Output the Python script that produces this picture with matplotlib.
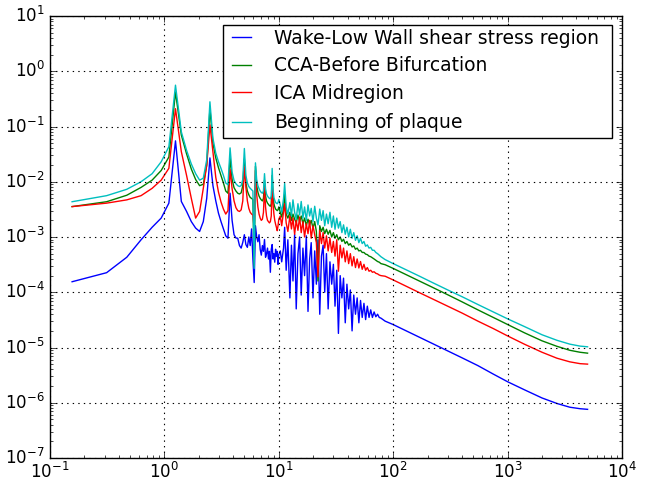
import matplotlib
matplotlib.use("Agg")
import matplotlib.pyplot as plt

# frequency axis (Hz): harmonic grid up to 10 Hz, then coarser samples
freq = [
    0.156, 0.3125, 0.469, 0.625, 0.781, 0.9375, 1.094, 1.25,
    1.406, 1.5625, 1.719, 1.875, 2.031, 2.1875, 2.344, 2.5,
    2.656, 2.8125, 2.969, 3.125, 3.281, 3.4375, 3.594, 3.75,
    3.906, 4.0625, 4.219, 4.375, 4.531, 4.6875, 4.844, 5.0,
    5.156, 5.3125, 5.469, 5.625, 5.781, 5.9375, 6.094, 6.25,
    6.406, 6.5625, 6.719, 6.875, 7.031, 7.1875, 7.344, 7.5,
    7.656, 7.8125, 7.969, 8.125, 8.281, 8.4375, 8.594, 8.75,
    8.906, 9.0625, 9.219, 9.375, 9.531, 9.6875, 9.844, 10.0,
    10.3, 10.6, 11.0, 11.25, 11.6, 12.0, 12.5, 12.9,
    13.3, 13.75, 14.2, 14.7, 15.2, 15.7, 16.25, 16.8,
    17.4, 18.0, 18.6, 19.2, 19.9, 20.6, 21.3, 22.0,
    22.8, 23.6, 24.4, 25.2, 26.1, 27.0, 28.0, 29.0,
    30.0, 31.0, 32.1, 33.2, 34.4, 35.6, 36.8, 38.1,
    39.4, 40.8, 42.2, 43.7, 45.2, 46.8, 48.4, 50.1,
    51.8, 53.6, 55.5, 57.4, 59.4, 61.5, 63.6, 65.8,
    68.1, 70.5, 73.0, 75.5, 78.1,
    85, 100, 130, 170, 220, 300, 400, 550,
    750, 1000, 1400, 2000, 2700, 3500, 4300, 5000,
]

wake = [
    1.55e-4, 2.26e-4, 4.3e-4, 8.9e-4, 1.5e-3, 2.2e-3, 4.1e-3, 5.5e-2,
    4.4e-3, 2.9e-3, 1.9e-3, 1.45e-3, 1.26e-3, 1.9e-3, 5.0e-3, 2.7e-2,
    8.5e-3, 4.5e-3, 2.7e-3, 1.9e-3, 1.4e-3, 1.05e-3, 9.5e-4, 6.2e-3,
    2.0e-3, 1.1e-3, 9.6e-4, 9.5e-4, 7.0e-4, 6.3e-4, 8.0e-4, 1.1e-3,
    7.3e-4, 6.5e-4, 1.0e-3, 7.0e-4, 1.4e-3, 4.0e-4, 1.5e-4, 1.6e-3,
    1.0e-3, 8.2e-4, 1.1e-3, 6.0e-4, 4.7e-4, 7.0e-4, 5.5e-4, 9.0e-4,
    4.3e-4, 5.0e-4, 6.3e-4, 4.0e-4, 5.5e-4, 2.3e-4, 6.0e-4, 7.3e-4,
    4.0e-4, 5.0e-4, 3.5e-4, 6.0e-4, 4.5e-4, 5.5e-4, 3.2e-4, 4.8e-4,
    5.6e-4, 3.55e-4, 6.3e-4, 1.5e-3, 2.5e-4, 8.9e-4, 7.9e-5, 7.1e-4,
    1.6e-4, 1.12e-3, 5.0e-5, 5.0e-4, 1.0e-3, 8.9e-5, 6.3e-4, 2.0e-4,
    1.05e-3, 4.5e-5, 4.0e-4, 7.9e-4, 7.9e-5, 5.6e-4, 1.4e-4, 8.9e-4,
    4.0e-5, 4.5e-4, 7.1e-4, 1.0e-4, 5.0e-4, 5.0e-5, 3.55e-4, 1.4e-4,
    3.2e-4, 5.6e-5, 2.5e-4, 1.8e-5, 2.0e-4, 7.9e-5, 1.8e-4, 2.8e-5,
    1.4e-4, 5.0e-5, 1.1e-4, 2.0e-5, 8.9e-5, 4.0e-5, 7.9e-5, 2.8e-5,
    7.1e-5, 3.5e-5, 6.3e-5, 3.2e-5, 5.6e-5, 3.5e-5, 4.8e-5, 3.5e-5,
    4.4e-5, 3.6e-5, 4.0e-5, 3.5e-5, 3.4e-5,
    3.0e-5, 2.6e-5, 2.0e-5, 1.53e-5, 1.18e-5, 8.7e-6, 6.5e-6, 4.7e-6,
    3.3e-6, 2.4e-6, 1.72e-6, 1.22e-6, 9.7e-7, 8.3e-7, 7.8e-7, 7.6e-7,
]

cca = [
    3.55e-3, 4.35e-3, 5.7e-3, 7.9e-3, 1.07e-2, 1.6e-2, 2.8e-2, 0.42,
    7.0e-2, 3.2e-2, 1.7e-2, 1.1e-2, 8.5e-3, 9.0e-3, 2.0e-2, 0.21,
    5.0e-2, 2.7e-2, 1.8e-2, 1.3e-2, 9.5e-3, 6.8e-3, 6.2e-3, 2.8e-2,
    1.1e-2, 7.8e-3, 6.8e-3, 6.2e-3, 6.0e-3, 6.3e-3, 8.5e-3, 2.6e-2,
    9.5e-3, 6.8e-3, 5.8e-3, 5.2e-3, 5.0e-3, 4.8e-3, 3.0e-4, 1.9e-2,
    8.5e-3, 6.5e-3, 5.5e-3, 5.0e-3, 4.7e-3, 4.5e-3, 5.0e-3, 1.07e-2,
    5.5e-3, 4.5e-3, 4.1e-3, 3.9e-3, 3.7e-3, 3.6e-3, 4.0e-3, 1.3e-2,
    5.5e-3, 4.0e-3, 3.5e-3, 3.2e-3, 3.1e-3, 3.0e-3, 3.1e-3, 3.5e-3,
    2.8e-3, 2.3e-3, 3.3e-3, 6.0e-3, 2.6e-3, 2.2e-3, 2.8e-3, 2.0e-3,
    2.6e-3, 2.1e-3, 1.8e-3, 2.5e-3, 1.9e-3, 2.4e-3, 1.74e-3, 2.2e-3,
    1.6e-3, 2.1e-3, 1.66e-3, 2.0e-3, 1.45e-3, 1.9e-3, 1.26e-3, 1.6e-4,
    1.6e-3, 1.26e-3, 1.5e-3, 1.15e-3, 1.38e-3, 1.12e-3, 1.32e-3, 1.0e-3,
    1.2e-3, 9.5e-4, 1.1e-3, 8.9e-4, 1.0e-3, 8.3e-4, 9.1e-4, 7.6e-4,
    8.3e-4, 7.1e-4, 7.6e-4, 6.6e-4, 6.9e-4, 6.0e-4, 6.3e-4, 5.6e-4,
    5.75e-4, 5.25e-4, 5.25e-4, 4.9e-4, 4.8e-4, 4.5e-4, 4.4e-4, 4.2e-4,
    4.0e-4, 3.8e-4, 3.6e-4, 3.5e-4, 3.3e-4,
    3.15e-4, 2.7e-4, 2.08e-4, 1.6e-4, 1.23e-4, 9.0e-5, 6.7e-5, 4.8e-5,
    3.5e-5, 2.6e-5, 1.85e-5, 1.32e-5, 1.05e-5, 8.9e-6, 8.2e-6, 7.9e-6,
]

ica = [
    3.55e-3, 4.1e-3, 4.7e-3, 5.6e-3, 7.6e-3, 1.07e-2, 1.75e-2, 0.21,
    3.5e-2, 1.3e-2, 5.0e-3, 2.2e-3, 2.9e-3, 7.6e-3, 2.0e-2, 0.107,
    3.5e-2, 1.2e-2, 6.5e-3, 4.3e-3, 3.2e-3, 2.6e-3, 3.0e-3, 1.66e-2,
    7.5e-3, 4.5e-3, 3.4e-3, 3.0e-3, 2.9e-3, 3.1e-3, 4.5e-3, 1.9e-2,
    8.0e-3, 4.5e-3, 3.3e-3, 2.8e-3, 2.6e-3, 2.5e-3, 1.4e-3, 1.6e-2,
    6.0e-3, 3.5e-3, 2.6e-3, 2.2e-3, 2.0e-3, 2.1e-3, 2.8e-3, 8.1e-3,
    3.5e-3, 2.4e-3, 2.0e-3, 1.9e-3, 1.8e-3, 1.9e-3, 2.4e-3, 1.07e-2,
    4.0e-3, 2.6e-3, 2.0e-3, 1.7e-3, 1.5e-3, 1.3e-3, 1.6e-3, 2.1e-3,
    2.4e-3, 1.6e-3, 2.8e-3, 4.0e-3, 1.8e-3, 1.26e-3, 2.4e-3, 1.4e-3,
    2.2e-3, 1.12e-3, 2.0e-3, 1.32e-3, 2.3e-3, 1.2e-3, 1.9e-3, 1.0e-3,
    1.74e-3, 1.15e-3, 2.0e-3, 9.5e-4, 1.6e-3, 1.1e-3, 7.9e-4, 1.9e-4,
    1.32e-3, 7.6e-4, 1.2e-3, 6.3e-4, 1.05e-3, 5.6e-4, 9.5e-4, 5.25e-4,
    8.3e-4, 4.5e-4, 8.9e-4, 2.4e-4, 7.1e-4, 4.2e-4, 6.3e-4, 3.55e-4,
    5.6e-4, 3.3e-4, 5.0e-4, 3.0e-4, 4.4e-4, 2.8e-4, 4.0e-4, 2.75e-4,
    3.6e-4, 2.6e-4, 3.2e-4, 2.5e-4, 2.8e-4, 2.4e-4, 2.5e-4, 2.3e-4,
    2.35e-4, 2.2e-4, 2.15e-4, 2.05e-4, 2.0e-4,
    1.95e-4, 1.67e-4, 1.28e-4, 9.8e-5, 7.6e-5, 5.6e-5, 4.2e-5, 3.0e-5,
    2.2e-5, 1.62e-5, 1.15e-5, 8.2e-6, 6.4e-6, 5.5e-6, 5.1e-6, 5.0e-6,
]

plaque = [
    4.35e-3, 5.6e-3, 7.3e-3, 1.0e-2, 1.4e-2, 2.3e-2, 4.3e-2, 0.56,
    8.0e-2, 3.7e-2, 2.1e-2, 1.4e-2, 1.07e-2, 1.16e-2, 2.5e-2, 0.28,
    6.1e-2, 3.3e-2, 2.3e-2, 1.74e-2, 1.3e-2, 9.5e-3, 8.8e-3, 4.1e-2,
    1.5e-2, 1.05e-2, 9.2e-3, 8.5e-3, 8.2e-3, 8.5e-3, 1.1e-2, 4.0e-2,
    1.3e-2, 9.5e-3, 8.2e-3, 7.6e-3, 7.2e-3, 6.8e-3, 2.7e-4, 2.2e-2,
    1.1e-2, 8.5e-3, 7.5e-3, 6.8e-3, 6.4e-3, 6.2e-3, 6.8e-3, 1.4e-2,
    7.5e-3, 6.0e-3, 5.5e-3, 5.2e-3, 5.0e-3, 4.9e-3, 5.5e-3, 1.74e-2,
    7.2e-3, 5.2e-3, 4.6e-3, 4.2e-3, 4.1e-3, 4.0e-3, 4.2e-3, 4.8e-3,
    3.8e-3, 2.8e-3, 5.0e-3, 9.3e-3, 3.55e-3, 2.6e-3, 4.2e-3, 2.4e-3,
    4.7e-3, 2.8e-3, 2.1e-3, 4.0e-3, 2.5e-3, 4.4e-3, 2.2e-3, 3.5e-3,
    2.0e-3, 3.8e-3, 2.4e-3, 3.3e-3, 1.9e-3, 3.6e-3, 2.2e-3, 1.66e-3,
    3.2e-3, 2.0e-3, 3.0e-3, 1.6e-3, 2.6e-3, 1.74e-3, 2.8e-3, 1.5e-3,
    2.4e-3, 1.38e-3, 2.2e-3, 1.45e-3, 1.9e-3, 1.2e-3, 1.66e-3, 1.12e-3,
    1.5e-3, 1.0e-3, 1.38e-3, 9.5e-4, 1.2e-3, 8.7e-4, 1.05e-3, 7.9e-4,
    9.5e-4, 7.6e-4, 8.3e-4, 6.8e-4, 7.2e-4, 6.3e-4, 6.5e-4, 5.75e-4,
    5.75e-4, 5.25e-4, 5.0e-4, 4.7e-4, 4.4e-4,
    3.9e-4, 3.3e-4, 2.55e-4, 1.95e-4, 1.5e-4, 1.1e-4, 8.3e-5, 6.0e-5,
    4.4e-5, 3.3e-5, 2.4e-5, 1.7e-5, 1.35e-5, 1.15e-5, 1.06e-5, 1.03e-5,
]

labels = [
    "Wake-Low Wall shear stress region",
    "CCA-Before Bifurcation",
    "ICA Midregion",
    r"Beginning of $\mathrm{plaque}$",
]

plt.style.use("classic")
plt.rcParams["font.family"] = ["DejaVu Sans"]
plt.rcParams["mathtext.fontset"] = "dejavusans"

fig = plt.figure(figsize=(6.5, 4.82), dpi=100, facecolor="white")
ax = fig.add_axes([50 / 650, 24 / 482, 572 / 650, 442 / 482])

ax.loglog(freq, wake, color="b", lw=1.0, label=labels[0])
ax.loglog(freq, cca, color="g", lw=1.0, label=labels[1])
ax.loglog(freq, ica, color="r", lw=1.0, label=labels[2])
ax.loglog(freq, plaque, color="c", lw=1.0, label=labels[3])

ax.set_xlim(1e-1, 1e4)
ax.set_ylim(1e-7, 1e1)
ax.grid(True, which="major", linestyle=":", color="k", linewidth=0.8)
ax.tick_params(labelsize=12)
ax.tick_params(axis="x", which="major", pad=3)

# legend box spans a fixed width in the upper right, content left aligned
ax.legend(loc="upper right", bbox_to_anchor=(0.3024, 0.0, 0.6801, 0.9796),
          mode="expand", borderaxespad=0.0, fontsize=13.5,
          handlelength=1.6, handletextpad=0.9, labelspacing=0.45,
          borderpad=0.2, fancybox=False, framealpha=1.0)

fig.savefig("out.png", dpi=100, facecolor="white")
